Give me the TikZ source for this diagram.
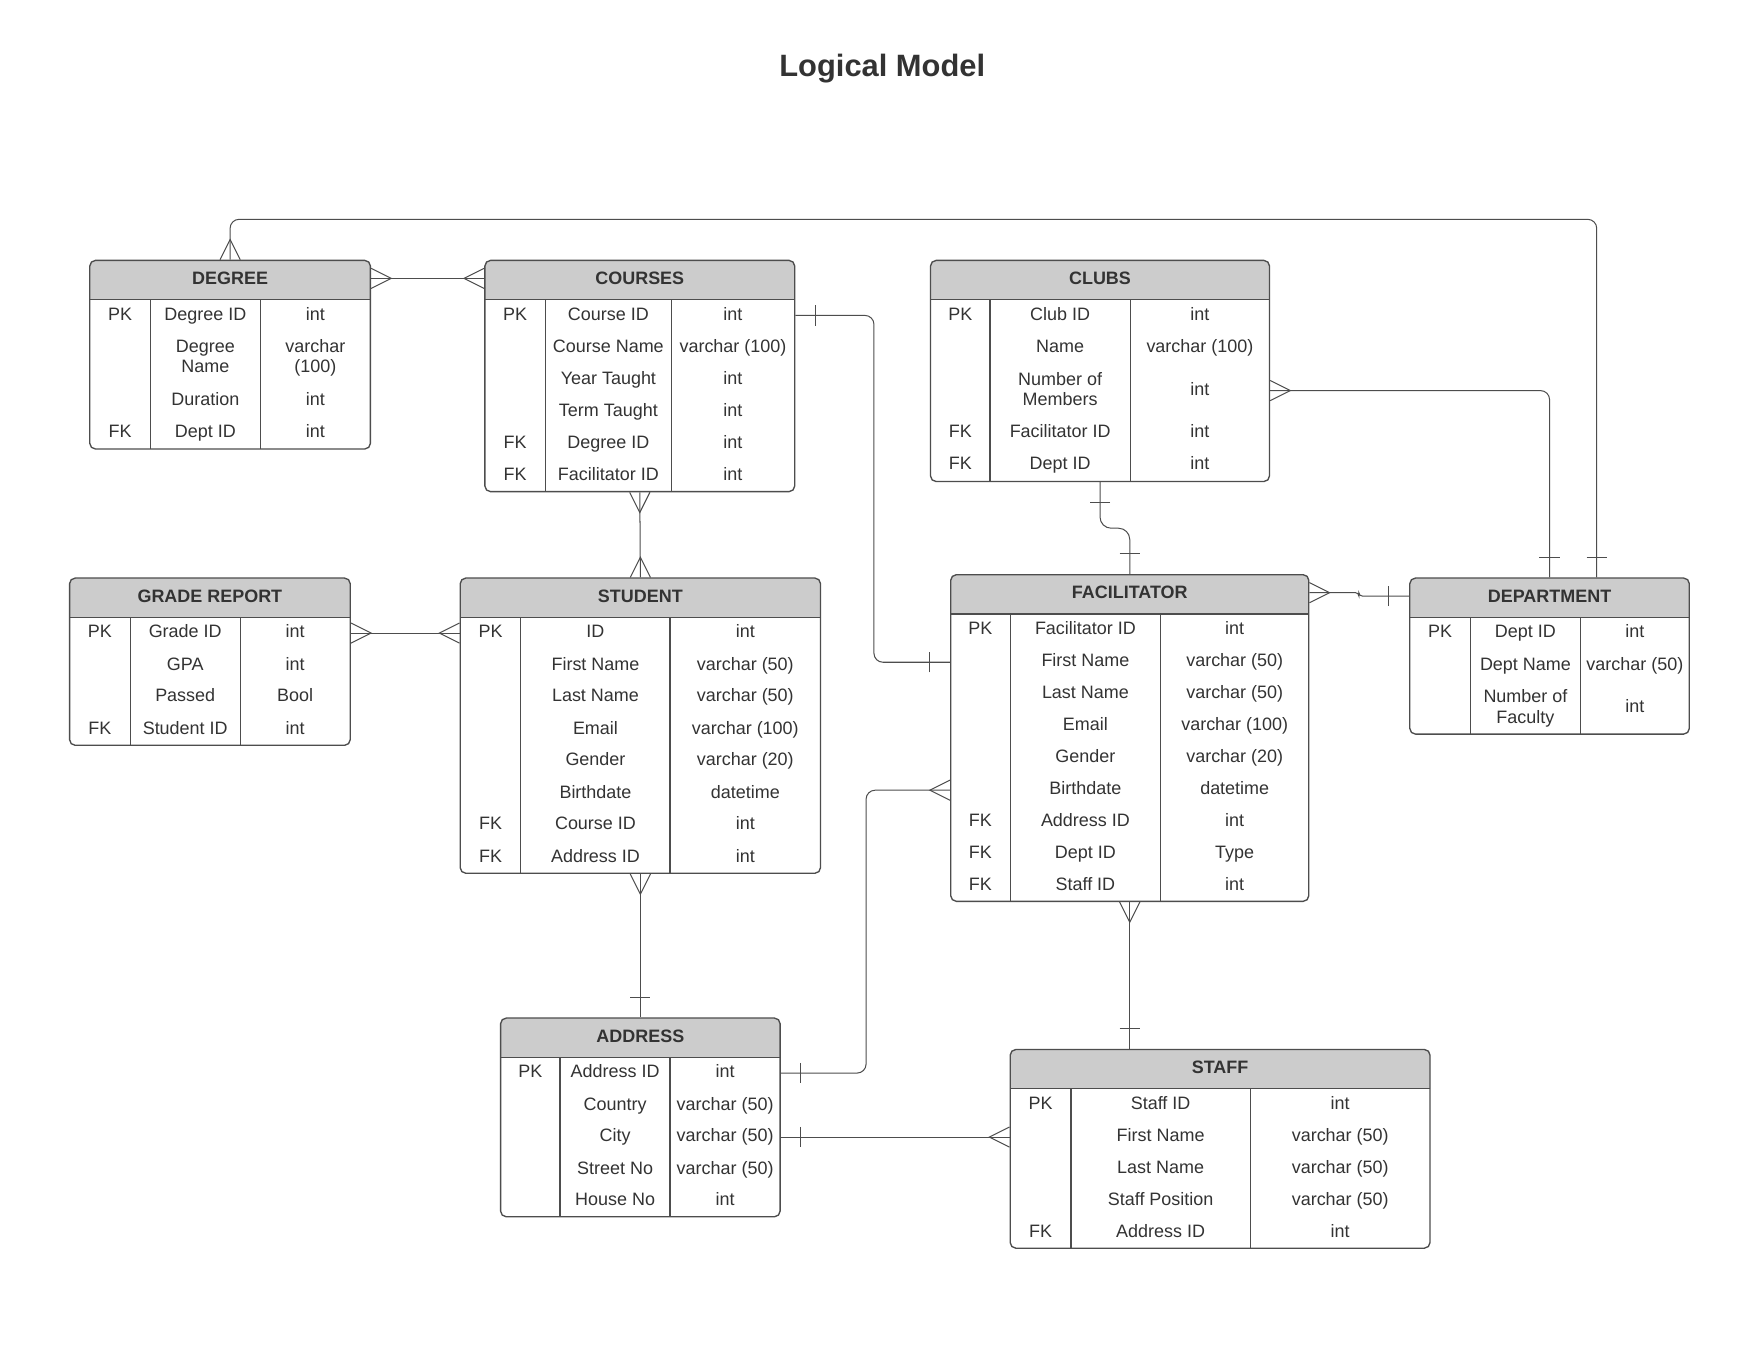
\documentclass[tikz,border=0pt]{standalone}
\usepackage{fontspec}
\setmainfont{Liberation Sans}
\usetikzlibrary{fit}

\definecolor{hdrfill}{HTML}{CCCCCC}
\definecolor{edgegray}{HTML}{4D4D4D}
\definecolor{txtgray}{HTML}{333333}

\tikzset{
	entframe/.style={draw=edgegray, line width=1.2pt, rounded corners=5pt, inner sep=0pt},
	divider/.style={draw=edgegray, line width=1.2pt},
	rel/.style={draw=edgegray, line width=0.9pt},
	cell/.style={text=txtgray, font=\fontsize{16}{18}\selectfont, align=center, inner sep=0pt},
	headtxt/.style={text=txtgray, font=\bfseries\fontsize{16}{18}\selectfont, inner sep=0pt},
	pagetitle/.style={text=txtgray, font=\bfseries\fontsize{27.5}{30}\selectfont, inner sep=0pt},
	many/.pic={\draw[rel] (0,9) -- (18,0) -- (0,-9);},
	one/.pic={\draw[rel] (18,9) -- (18,-9);}
}

\newcommand{\ertable}[9]{%
	\fill[hdrfill, rounded corners=5pt] (#2,{-#3-35}) -- (#2,-#3) -- (#4,-#3) -- (#4,{-#3-35});
	\draw[divider] (#2,{-#3-35}) -- (#4,{-#3-35}) (#6,{-#3-35}) -- (#6,-#5) (#7,{-#3-35}) -- (#7,-#5);
	\node[entframe, fit={(#2,-#3) (#4,-#5)}] (#1) {};
	\node[headtxt] (#1-h) at ({(#2+#4)/2},{-#3-16}) {#8};
	\foreach[count=\i] \y/\k/\f/\t in {#9} {
		\node[cell] (#1-k\i) at ({(#2+#6)/2},{-\y-1}) {\k\vphantom{(g}};
		\node[cell] (#1-f\i) at ({(#6+#7)/2},{-\y-1}) {\f\vphantom{(g}};
		\node[cell] (#1-t\i) at ({(#7+#4)/2},{-\y-1}) {\t\vphantom{(g}};
	}
}

\begin{document}
\begin{tikzpicture}[x=1pt, y=1pt]
	\path[use as bounding box, fill=white] (0,0) rectangle (1568,-1212);
	\node[pagetitle] (ttl) at (786,-61) {Logical Model};

	\ertable{degree}{80}{232}{330}{400}{134}{232}{DEGREE}{280/PK/Degree ID/int, 318/{}/{Degree\\Name}/{varchar\\(100)}, 356/{}/Duration/int, 385/FK/Dept ID/int}
	\ertable{courses}{432}{232}{708}{438}{486}{598}{COURSES}{280/PK/Course ID/int, 309/{}/Course Name/{varchar (100)}, 337/{}/Year Taught/int, 366/{}/Term Taught/int, 394/FK/Degree ID/int, 423/FK/Facilitator ID/int}
	\ertable{clubs}{829}{232}{1131}{429}{882}{1007}{CLUBS}{280/PK/Club ID/int, 309/{}/Name/{varchar (100)}, 347/{}/{Number of\\Members}/int, 385/FK/Facilitator ID/int, 413/FK/Dept ID/int}
	\ertable{grade}{62}{515}{312}{664}{116}{214}{GRADE REPORT}{563/PK/Grade ID/int, 592/{}/GPA/int, 620/{}/Passed/Bool, 649/FK/Student ID/int}
	\ertable{student}{410}{515}{731}{778}{464}{597}{STUDENT}{563/PK/ID/int, 592/{}/First Name/{varchar (50)}, 620/{}/Last Name/{varchar (50)}, 649/{}/Email/{varchar (100)}, 677/{}/Gender/{varchar (20)}, 706/{}/Birthdate/datetime, 734/FK/Course ID/int, 763/FK/Address ID/int}
	\ertable{facil}{847}{512}{1166}{803}{900}{1034}{FACILITATOR}{560/PK/Facilitator ID/int, 589/{}/First Name/{varchar (50)}, 617/{}/Last Name/{varchar (50)}, 646/{}/Email/{varchar (100)}, 674/{}/Gender/{varchar (20)}, 703/{}/Birthdate/datetime, 731/FK/Address ID/int, 760/FK/Dept ID/Type, 788/FK/Staff ID/int}
	\ertable{dept}{1256}{515}{1505}{654}{1310}{1408}{DEPARTMENT}{563/PK/Dept ID/int, 592/{}/Dept Name/{varchar (50)}, 630/{}/{Number of\\Faculty}/int}
	\ertable{address}{446}{907}{695}{1084}{499}{597}{ADDRESS}{955/PK/Address ID/int, 984/{}/Country/{varchar (50)}, 1012/{}/City/{varchar (50)}, 1041/{}/Street No/{varchar (50)}, 1069/{}/House No/int}
	\ertable{staff}{900}{935}{1274}{1112}{954}{1114}{STAFF}{983/PK/Staff ID/int, 1012/{}/First Name/{varchar (50)}, 1040/{}/Last Name/{varchar (50)}, 1069/{}/Staff Position/{varchar (50)}, 1097/FK/Address ID/int}

	\draw[rel, rounded corners=8pt] (degree.north) -- ++(0,36) -| ([xshift=42pt]dept.north);
	\pic[rotate=90] at (degree.north) {many};
	\pic[rotate=90] at ([xshift=42pt]dept.north) {one};

	\draw[rel] (degree.east |- degree-h) -- (courses.west |- degree-h);
	\pic at (degree.east |- degree-h) {many};
	\pic[rotate=180] at (courses.west |- degree-h) {many};

	\draw[rel, rounded corners=8pt] (courses.east |- courses-f1) -- ++(70,0) |- (facil.west |- facil-f2);
	\pic at (courses.east |- courses-f1) {one};
	\pic[rotate=180] at (facil.west |- facil-f2) {one};

	\draw[rel] (courses.south) -- (student.north);
	\pic[rotate=-90] at (courses.south) {many};
	\pic[rotate=90] at (student.north) {many};

	\draw[rel] (grade.east |- grade-k1) -- (student.west |- grade-k1);
	\pic at (grade.east |- grade-k1) {many};
	\pic[rotate=180] at (student.west |- grade-k1) {many};

	\draw[rel] (student.south) -- (address.north);
	\pic[rotate=-90] at (student.south) {many};
	\pic[rotate=90] at (address.north) {one};

	\draw[rel, rounded corners=8pt] (address.east |- address-k1) -- ++(76,0) |- (facil.west |- facil-k6);
	\pic at (address.east |- address-k1) {one};
	\pic[rotate=180] at (facil.west |- facil-k6) {many};

	\draw[rel] (address.east |- address-k3) -- (staff.west |- address-k3);
	\pic at (address.east |- address-k3) {one};
	\pic[rotate=180] at (staff.west |- address-k3) {many};

	\draw[rel] (facil.south) -- (staff.north -| facil.south);
	\pic[rotate=-90] at (facil.south) {many};
	\pic[rotate=90] at (staff.north -| facil.south) {one};

	\draw[rel, rounded corners=10pt] (clubs.south) -- ++(0,-41) -| (facil.north);
	\pic[rotate=-90] at (clubs.south) {one};
	\pic[rotate=90] at (facil.north) {one};

	\draw[rel, rounded corners=8pt] (clubs.east |- clubs-f3) -| (dept.north);
	\pic at (clubs.east |- clubs-f3) {many};
	\pic[rotate=90] at (dept.north) {one};

	\draw[rel, rounded corners=3pt] (facil.east |- facil-h) -- ++(44,0) |- (dept.west |- dept-h);
	\pic at (facil.east |- facil-h) {many};
	\pic[rotate=180] at (dept.west |- dept-h) {one};
\end{tikzpicture}
\end{document}
